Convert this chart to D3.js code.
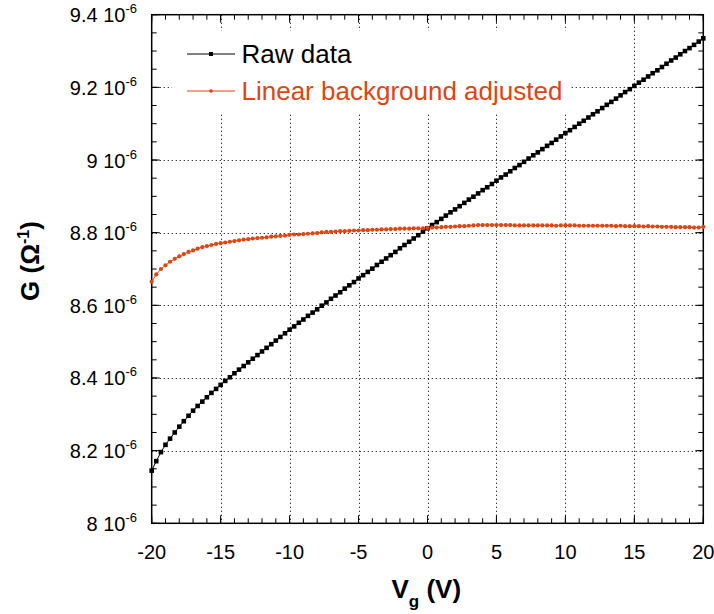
<!DOCTYPE html>
<html><head><meta charset="utf-8">
<script src="https://cdn.jsdelivr.net/npm/d3@7"></script>
<style>body{margin:0;background:#fff}svg{display:block;font-family:"Liberation Sans",Arial,sans-serif}</style>
</head><body><svg width="714" height="614"></svg>
<script>
// Gate voltage (V)
const vg = [-20,-19.67,-19.33,-19,-18.67,-18.33,-18,-17.67,-17.33,-17,-16.67,-16.33,-16,-15.67,-15.33,-15,-14.67,-14.33,-14,-13.67,-13.33,-13,-12.67,-12.33,-12,-11.67,-11.33,-11,-10.67,-10.33,-10,-9.67,-9.33,-9,-8.67,-8.33,-8,-7.67,-7.33,-7,-6.67,-6.33,-6,-5.67,-5.33,-5,-4.67,-4.33,-4,-3.67,-3.33,-3,-2.67,-2.33,-2,-1.67,-1.33,-1,-0.67,-0.33,0,0.33,0.67,1,1.33,1.67,2,2.33,2.67,3,3.33,3.67,4,4.33,4.67,5,5.33,5.67,6,6.33,6.67,7,7.33,7.67,8,8.33,8.67,9,9.33,9.67,10,10.33,10.67,11,11.33,11.67,12,12.33,12.67,13,13.33,13.67,14,14.33,14.67,15,15.33,15.67,16,16.33,16.67,17,17.33,17.67,18,18.33,18.67,19,19.33,19.67,20];
// Conductance, in units of 10^-6 Ohm^-1
const rawData = [8.145,8.171,8.196,8.216,8.233,8.250,8.266,8.281,8.296,8.310,8.323,8.335,8.347,8.359,8.370,8.381,8.392,8.402,8.413,8.423,8.433,8.443,8.453,8.463,8.473,8.483,8.493,8.503,8.513,8.523,
8.533,8.542,8.552,8.561,8.571,8.580,8.589,8.599,8.608,8.618,8.627,8.636,8.646,8.655,8.664,8.674,8.683,8.692,8.701,8.711,8.720,8.729,8.738,8.747,8.757,8.766,8.775,8.784,8.793,8.803,
8.812,8.821,8.829,8.838,8.847,8.856,8.864,8.873,8.882,8.891,8.899,8.908,8.917,8.925,8.934,8.943,8.952,8.960,8.969,8.978,8.986,8.995,9.004,9.013,9.021,9.030,9.039,9.047,9.056,9.065,
9.074,9.082,9.091,9.100,9.108,9.117,9.126,9.134,9.143,9.152,9.160,9.169,9.178,9.187,9.195,9.204,9.213,9.221,9.230,9.239,9.247,9.256,9.265,9.274,9.282,9.291,9.300,9.308,9.317,9.326,
9.335];
const adjusted = [8.665,8.685,8.700,8.710,8.720,8.728,8.735,8.741,8.747,8.751,8.756,8.760,8.763,8.766,8.769,8.771,8.773,8.775,8.777,8.779,8.781,8.782,8.784,8.785,8.786,8.787,8.789,8.790,8.791,8.792,
8.794,8.795,8.795,8.796,8.797,8.798,8.799,8.801,8.802,8.802,8.803,8.804,8.804,8.805,8.806,8.806,8.807,8.807,8.808,8.808,8.809,8.809,8.810,8.810,8.811,8.811,8.811,8.812,8.812,8.812,
8.813,8.814,8.814,8.815,8.816,8.816,8.817,8.818,8.818,8.819,8.820,8.821,8.821,8.821,8.821,8.821,8.821,8.821,8.821,8.820,8.820,8.820,8.820,8.820,8.820,8.820,8.820,8.820,8.819,8.820,
8.820,8.820,8.820,8.819,8.819,8.819,8.819,8.819,8.819,8.819,8.819,8.818,8.819,8.818,8.818,8.818,8.818,8.817,8.818,8.817,8.817,8.816,8.816,8.816,8.815,8.815,8.815,8.815,8.814,8.814,
8.816];
const xTicks = [-20,-15,-10,-5,0,5,10,15,20];
const yTicks = [8,8.2,8.4,8.6,8.8,9,9.2,9.4];
const seriesNames = ["Raw data","Linear background adjusted"];
const colors = ["#000000","#e2440f"];

const W=714,H=614,m={l:151.7,r:10.7,t:14.7,b:90.7};
const svg=d3.select("svg");
const x=d3.scaleLinear().domain([-20,20]).range([m.l,W-m.r]);
const y=d3.scaleLinear().domain([8,9.4]).range([H-m.b,m.t]);
const X0=x.range()[0],X1=x.range()[1],Y0=y.range()[0],Y1=y.range()[1];

// grid
const grid=svg.append("g").attr("stroke","#222").attr("stroke-width",1).attr("stroke-dasharray","1.2,2.8");
grid.selectAll(".gx").data(xTicks.slice(1,-1)).join("line")
  .attr("x1",d=>Math.round(x(d))+0.5).attr("x2",d=>Math.round(x(d))+0.5).attr("y1",Y1).attr("y2",Y0);
grid.selectAll(".gy").data(yTicks.slice(1,-1)).join("line")
  .attr("y1",d=>Math.round(y(d))+0.5).attr("y2",d=>Math.round(y(d))+0.5).attr("x1",X0).attr("x2",X1);

// legend background
svg.append("rect").attr("x",172).attr("y",31).attr("width",398).attr("height",83).attr("fill","#fff");

// ticks
const tk=svg.append("g").attr("stroke","#000").attr("stroke-width",1);
const xMinor=d3.range(-20,20.01,1), yMinor=d3.range(8,9.401,0.05);
function vt(vals,len){vals.forEach(v=>{const px=x(v);
  tk.append("line").attr("x1",px).attr("x2",px).attr("y1",Y0).attr("y2",Y0-len);
  tk.append("line").attr("x1",px).attr("x2",px).attr("y1",Y1).attr("y2",Y1+len);});}
function ht(vals,len){vals.forEach(v=>{const py=y(v);
  tk.append("line").attr("y1",py).attr("y2",py).attr("x1",X0).attr("x2",X0+len);
  tk.append("line").attr("y1",py).attr("y2",py).attr("x1",X1).attr("x2",X1-len);});}
vt(xMinor,5); vt(xTicks,8); ht(yMinor,5); ht(yTicks,8);

// frame
svg.append("rect").attr("x",X0).attr("y",Y1).attr("width",X1-X0).attr("height",Y0-Y1)
  .attr("fill","none").attr("stroke","#000").attr("stroke-width",1.5);

// tick labels
svg.append("g").selectAll("text").data(xTicks).join("text")
  .attr("x",d=>x(d)).attr("y",559).attr("text-anchor","middle").attr("font-size",20).text(d=>d);
const yl=svg.append("g").selectAll("text").data(yTicks).join("text")
  .attr("x",137).attr("y",d=>y(d)+7.5).attr("text-anchor","end").attr("font-size",20);
yl.append("tspan").text(d=>(+d.toFixed(1))+" 10");
yl.append("tspan").attr("font-size",13).attr("dy",-9).text("-6");

// axis titles
const xt=svg.append("text").attr("x",391.5).attr("y",598).attr("font-size",26).attr("font-weight","bold");
xt.append("tspan").text("V");
xt.append("tspan").attr("font-size",17).attr("dy",9).text("g");
xt.append("tspan").attr("dy",-9).text(" (V)");
const yt=svg.append("text").attr("transform","translate(38.5,261) rotate(-90)").attr("text-anchor","middle")
  .attr("font-size",26).attr("font-weight","bold");
yt.append("tspan").text("G (Ω");
yt.append("tspan").attr("font-size",16).attr("dy",-10).text("-1");
yt.append("tspan").attr("dy",10).text(")");

// data
const series=[rawData,adjusted];
const line=d3.line().x((d,i)=>x(vg[i])).y(d=>y(d));
series.forEach((s,k)=>{
  svg.append("path").datum(s).attr("d",line).attr("fill","none").attr("stroke",colors[k]).attr("stroke-width",1);
});
svg.append("g").selectAll("rect").data(rawData).join("rect")
  .attr("x",(d,i)=>x(vg[i])-2.3).attr("y",d=>y(d)-2.3).attr("width",4.6).attr("height",4.6).attr("fill",colors[0]);
svg.append("g").selectAll("circle").data(adjusted).join("circle")
  .attr("cx",(d,i)=>x(vg[i])).attr("cy",d=>y(d)).attr("r",2.1).attr("fill",colors[1]);

// legend
const ly=[54,91];
seriesNames.forEach((n,k)=>{
  svg.append("line").attr("x1",187).attr("x2",235).attr("y1",ly[k]).attr("y2",ly[k]).attr("stroke",colors[k]).attr("stroke-width",1);
  if(k===0) svg.append("rect").attr("x",209).attr("y",ly[k]-2).attr("width",4).attr("height",4).attr("fill",colors[k]);
  else svg.append("circle").attr("cx",211).attr("cy",ly[k]).attr("r",1.8).attr("fill",colors[k]);
  svg.append("text").attr("x",241.5).attr("y",ly[k]+9.3).attr("font-size",26).attr("fill",colors[k]).text(n);
});
</script></body></html>
